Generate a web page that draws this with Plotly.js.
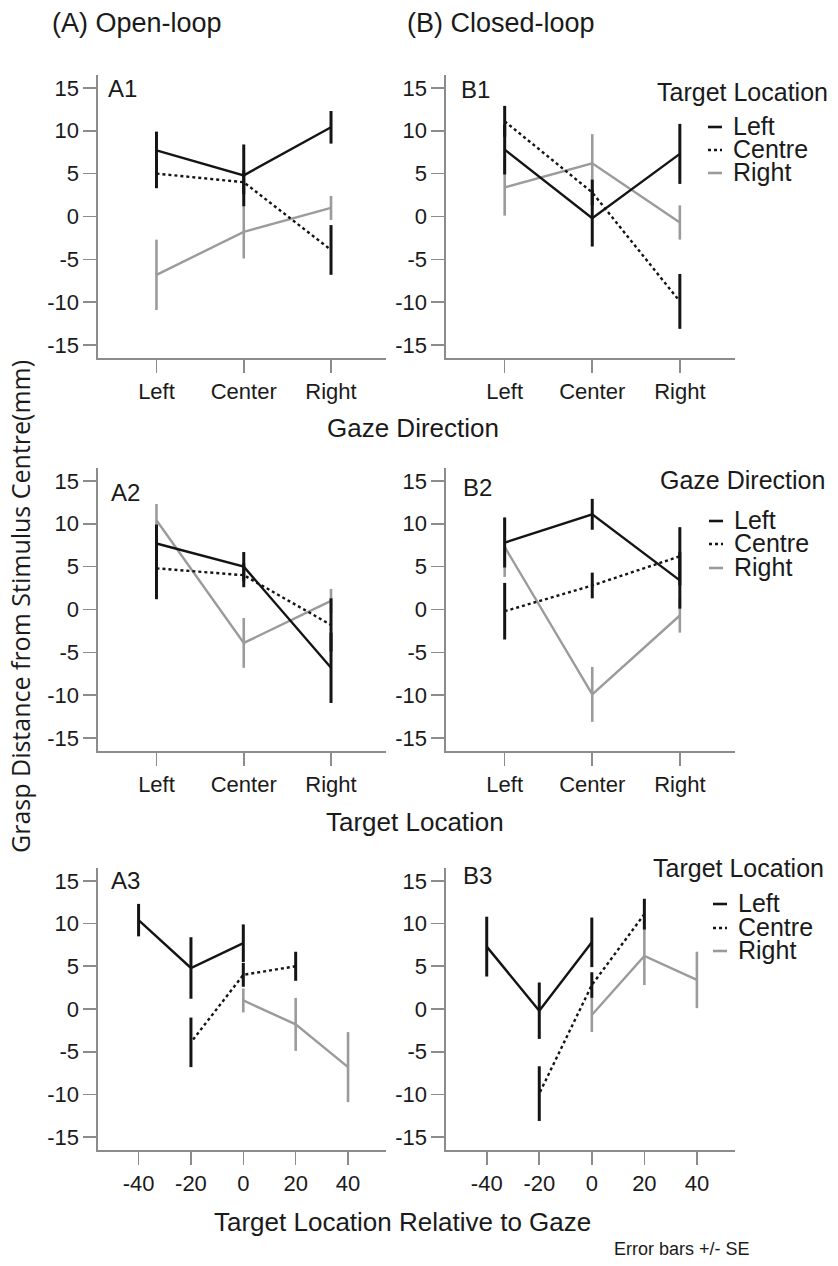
<!DOCTYPE html>
<html>
<head>
<meta charset="utf-8">
<script src="https://cdn.plot.ly/plotly-3.0.1.min.js"></script>
<style>
  html, body { margin: 0; padding: 0; background: #fff; }
  #chart { width: 838px; height: 1266px; }
</style>
</head>
<body>
<div id="chart"></div>
<script>
// Tick labels
const gazeTicks = ['Left', 'Center', 'Right'];
const targetTicks = ['Left', 'Center', 'Right'];
const relTicks = [-40, -20, 0, 20, 40];
const seriesNames = ['Left', 'Centre', 'Right'];

// Open-loop: mean grasp distance (mm) per target location, over gaze Left / Center / Right
const openLeft = [7.7, 4.8, 10.4];
const openLeftSE = [2.2, 3.6, 1.9];
const openCentre = [5.0, 4.0, -3.9];
const openCentreSE = [1.7, 1.4, 2.9];
const openRight = [-6.8, -1.8, 1.0];
const openRightSE = [4.1, 3.1, 1.4];

// Closed-loop: mean grasp distance (mm) per target location, over gaze Left / Center / Right
const closedLeft = [7.8, -0.2, 7.3];
const closedLeftSE = [2.9, 3.3, 3.5];
const closedCentre = [11.1, 2.8, -9.9];
const closedCentreSE = [1.8, 1.5, 3.2];
const closedRight = [3.4, 6.2, -0.7];
const closedRightSE = [3.3, 3.4, 2.0];

// Target location relative to gaze (deg), for gaze Left / Center / Right
const relLeft = [0, -20, -40];
const relCentre = [20, 0, -20];
const relRight = [40, 20, 0];

// ---------------------------------------------------------------
const W = 838, H = 1266;
const FONT = 'Liberation Sans, Arial, sans-serif';
const AXC = '#8c8c8c';
const TXT = '#1a1a1a';

const colPx = [[98, 386], [446, 735]];
const rowPx = [[75, 358], [468, 751], [868, 1150]];

const styles = [
  { color: '#141414', dash: 'solid', ew: 3 },
  { color: '#141414', dash: 'dot', ew: 3 },
  { color: '#9b9b9b', dash: 'solid', ew: 2.6 }
];

const openTable = { means: [openLeft, openCentre, openRight], se: [openLeftSE, openCentreSE, openRightSE] };
const closedTable = { means: [closedLeft, closedCentre, closedRight], se: [closedLeftSE, closedCentreSE, closedRightSE] };
const relTable = [relLeft, relCentre, relRight];

const traces = [];
function addLine(axIdx, x, y, se, s) {
  const suffix = axIdx === 1 ? '' : String(axIdx);
  traces.push({
    type: 'scatter', mode: 'lines',
    x: x, y: y,
    xaxis: 'x' + suffix, yaxis: 'y' + suffix,
    line: { color: styles[s].color, width: 2.4, dash: styles[s].dash },
    error_y: { type: 'data', array: se, visible: true, width: 0,
               thickness: styles[s].ew, color: styles[s].color },
    hoverinfo: 'x+y', showlegend: false
  });
}

// Draw order: Right (grey) first, then Centre, then Left on top
const order = [2, 1, 0];
[openTable, closedTable].forEach((tbl, col) => {
  // Row 1: lines per target, x = gaze direction
  order.forEach(t => addLine(1 + col, gazeTicks, tbl.means[t], tbl.se[t], t));
  // Row 2: lines per gaze, x = target location
  order.forEach(g => addLine(3 + col, targetTicks,
    tbl.means.map(row => row[g]), tbl.se.map(row => row[g]), g));
  // Row 3: lines per target, x = target relative to gaze
  order.forEach(t => addLine(5 + col, relTable[t], tbl.means[t], tbl.se[t], t));
});

const layout = {
  width: W, height: H,
  margin: { l: 0, r: 0, t: 0, b: 0 },
  paper_bgcolor: '#fff', plot_bgcolor: '#fff',
  showlegend: false,
  font: { family: FONT, color: TXT },
  annotations: [], shapes: []
};

const px = x => x / W;
const py = y => 1 - y / H;

function axisBase() {
  return {
    showline: true, linecolor: AXC, linewidth: 1.6,
    ticks: 'outside', ticklen: 13, tickwidth: 1.6, tickcolor: AXC,
    showgrid: false, zeroline: false, fixedrange: true,
    tickfont: { family: FONT, size: 22, color: TXT }
  };
}

for (let r = 0; r < 3; r++) {
  for (let c = 0; c < 2; c++) {
    const idx = r * 2 + c + 1;
    const suffix = idx === 1 ? '' : String(idx);
    const xa = axisBase();
    xa.domain = [px(colPx[c][0]), px(colPx[c][1])];
    xa.anchor = 'y' + suffix;
    if (r < 2) {
      xa.type = 'category';
      xa.range = [-0.67, 2.63];
    } else {
      xa.range = [-55.5, 54.5];
      xa.tickvals = relTicks;
      xa.ticktext = relTicks.map(String);
    }
    const ya = axisBase();
    ya.domain = [py(rowPx[r][1]), py(rowPx[r][0])];
    ya.anchor = 'x' + suffix;
    ya.range = [-16.5, 16.5];
    ya.tickvals = [-15, -10, -5, 0, 5, 10, 15];
    ya.ticktext = ['-15', '-10', '-5', '0', '5', '10', '15'];
    layout['xaxis' + suffix] = xa;
    layout['yaxis' + suffix] = ya;
  }
}

function text(x, y, str, size, anchor, extra) {
  layout.annotations.push(Object.assign({
    xref: 'paper', yref: 'paper', x: px(x), y: py(y),
    text: str, showarrow: false, xanchor: anchor || 'left', yanchor: 'middle',
    font: { family: FONT, size: size, color: TXT }
  }, extra || {}));
}

// Column headings
text(50, 23, '(A) Open-loop', 27);
text(405, 23, '(B) Closed-loop', 27);

// Panel labels
text(106, 88, 'A1', 24);
text(459, 89, 'B1', 24);
text(109, 492, 'A2', 24);
text(461, 487, 'B2', 24);
text(109, 880, 'A3', 24);
text(461, 875, 'B3', 24);

// Shared axis titles
text(413, 428, 'Gaze Direction', 26, 'center');
text(415, 822, 'Target Location', 26, 'center');
text(402, 1222, 'Target Location Relative to Gaze', 26, 'center');
text(20, 607, 'Grasp Distance from Stimulus Centre(mm)', 25, 'center',
  { textangle: -90, font: { family: 'Open Sans, Noto Sans, sans-serif', size: 25, color: TXT } });
text(612, 1249, 'Error bars +/- SE', 18);

// Legends for the B panels
function legend(title, titleX, titleY, keyX, textX, ys) {
  text(titleX, titleY, title, 25);
  seriesNames.forEach((name, i) => {
    text(textX, ys[i], name, 25);
    layout.shapes.push({
      type: 'line', xref: 'paper', yref: 'paper',
      x0: px(keyX), x1: px(keyX + 14), y0: py(ys[i] + 1), y1: py(ys[i] + 1),
      line: { color: styles[i].color, width: 2.6, dash: styles[i].dash }
    });
  });
}
legend('Target Location', 655, 92, 708, 731, [126, 149, 172]);
legend('Gaze Direction', 658, 480, 709, 732, [520, 543, 567]);
legend('Target Location', 651, 868, 713, 736, [903, 927, 950]);

Plotly.newPlot('chart', traces, layout, { staticPlot: true, displayModeBar: false });
</script>
</body>
</html>
